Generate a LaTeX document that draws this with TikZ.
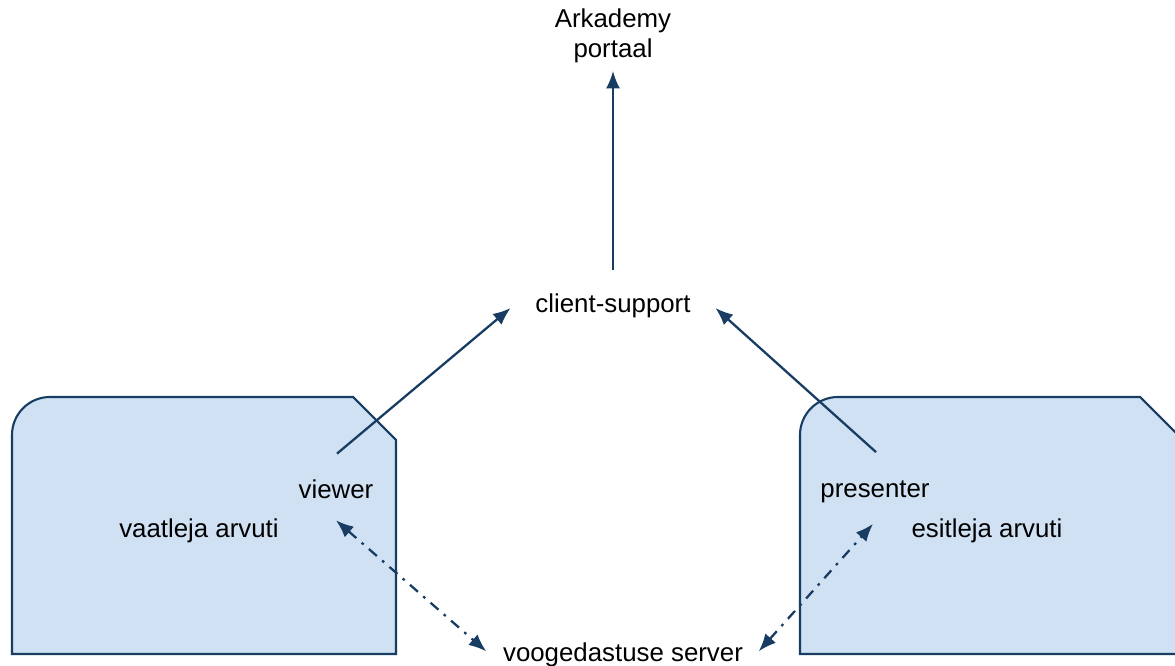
\documentclass[tikz,border=0pt]{standalone}
\usepackage{fontspec}
\setmainfont{Liberation Sans}
\usetikzlibrary{arrows.meta,calc,positioning}
\definecolor{linkblue}{RGB}{24,60,98}
\definecolor{pcfill}{RGB}{207,225,242}

\begin{document}
\begin{tikzpicture}[
    lbl/.style={font=\fontsize{14.7}{17}\selectfont, inner sep=2pt},
    pcbox/.style={draw=linkblue, fill=pcfill, line width=1.2pt},
    arr/.style={-{Latex[length=10pt,width=8pt]}, draw=linkblue, line width=1.3pt},
    stream/.style={{Latex[length=10pt,width=8pt]}-{Latex[length=10pt,width=8pt]}, draw=linkblue, line width=1.3pt,
        dash pattern=on 6pt off 4pt on 1.5pt off 4pt}
]
    \useasboundingbox (0,0) rectangle (23.5,13.32);
    \begin{scope}
        \clip (0,0) rectangle (23.5,13.32);
        % computers
        \draw[pcbox] (0.24,0.24) -- (0.24,4.62) arc[start angle=180, end angle=90, radius=0.76]
            -- (7.06,5.38) -- (7.92,4.52) -- (7.92,0.24) -- cycle;
        \draw[pcbox] (16.0,0.24) -- (16.0,4.62) arc[start angle=180, end angle=90, radius=0.76]
            -- (22.8,5.38) -- (23.66,4.52) -- (23.66,0.24) -- cycle;
    \end{scope}

    \node[lbl, align=center] (portal) at (12.26,12.6) {Arkademy\\portaal};
    \node[lbl] (support) at (12.26,7.2) {client-support};
    \node[lbl] (viewer) at (6.72,3.54) {viewer};
    \node[lbl] (vpc) at (3.98,2.7) {vaatleja arvuti};
    \node[lbl] (presenter) at (17.5,3.48) {presenter};
    \node[lbl] (epc) at (19.74,2.7) {esitleja arvuti};
    \node[lbl, anchor=base] (server) at (12.46,0.08) {voogedastuse server};

    % connections
    \draw[arr, shorten <=0.4cm, shorten >=0.08cm] (support.north) -- (portal.south);
    \draw[arr] ($(viewer.north)+(0.02,0.44)$) -- ($(support.west)+(-0.42,-0.04)$);
    \draw[arr] ($(presenter.north)+(0.02,0.5)$) -- ($(support.east)+(0.42,-0.04)$);
    \draw[stream] ($(viewer.south)+(0,-0.36)$) -- ($(server.west)+(-0.26,0.08)$);
    \draw[stream] ($(server.east)+(0.24,0.08)$) -- ($(presenter.south)+(-0.04,-0.34)$);
\end{tikzpicture}
\end{document}
